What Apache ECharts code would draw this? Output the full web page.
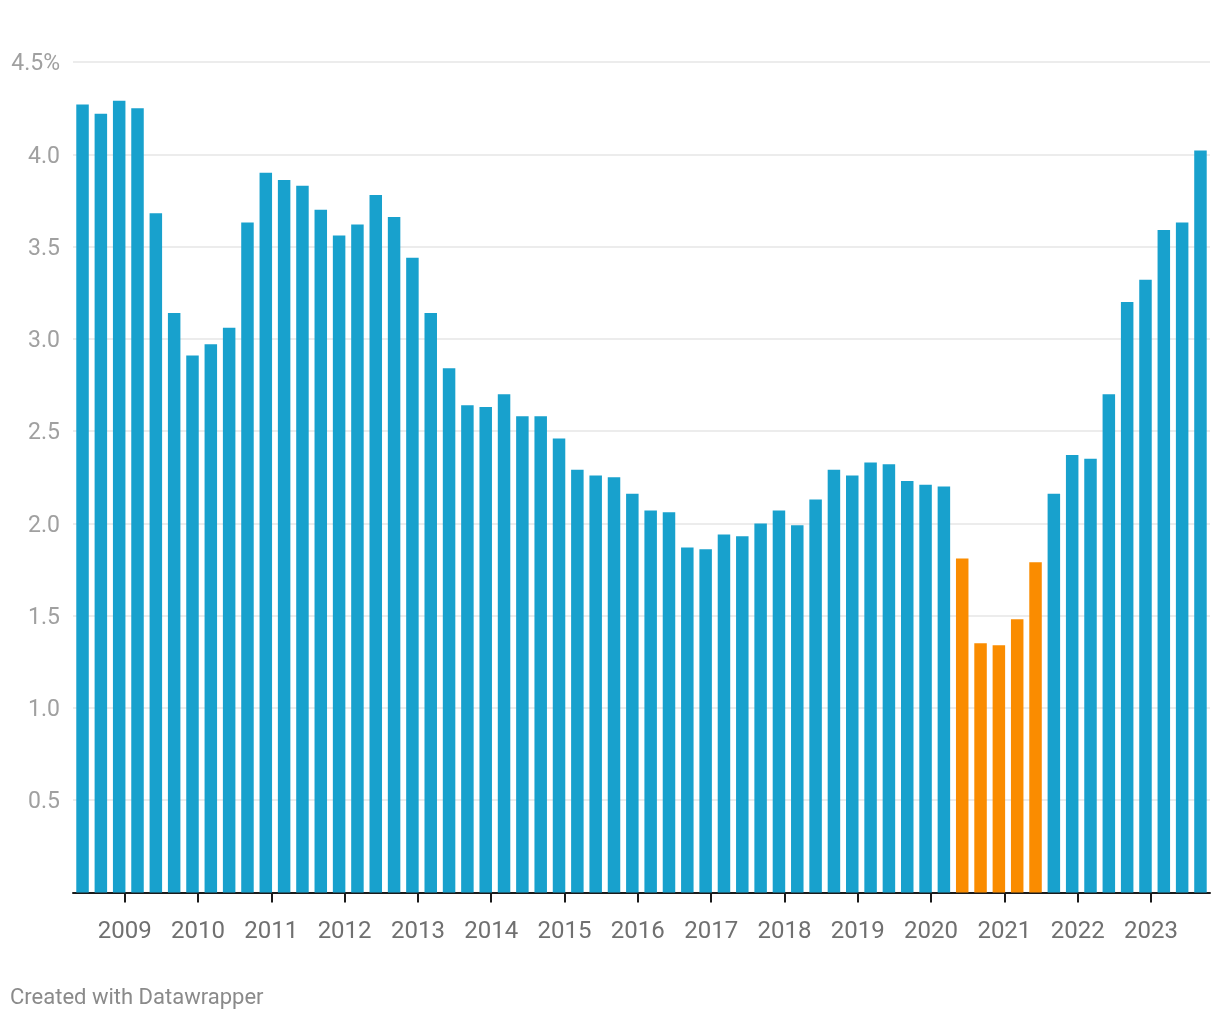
<!DOCTYPE html>
<html>
<head>
<meta charset="utf-8">
<script src="https://cdn.jsdelivr.net/npm/echarts@6/dist/echarts.min.js"></script>
<style>
  html, body { margin: 0; padding: 0; background: #ffffff; }
  #chart { width: 1220px; height: 1020px; }
</style>
</head>
<body>
<div id="chart"></div>
<script>
// Quarterly periods (one bar each)
const quarters = [
  '2008 Q2','2008 Q3','2008 Q4',
  '2009 Q1','2009 Q2','2009 Q3','2009 Q4',
  '2010 Q1','2010 Q2','2010 Q3','2010 Q4',
  '2011 Q1','2011 Q2','2011 Q3','2011 Q4',
  '2012 Q1','2012 Q2','2012 Q3','2012 Q4',
  '2013 Q1','2013 Q2','2013 Q3','2013 Q4',
  '2014 Q1','2014 Q2','2014 Q3','2014 Q4',
  '2015 Q1','2015 Q2','2015 Q3','2015 Q4',
  '2016 Q1','2016 Q2','2016 Q3','2016 Q4',
  '2017 Q1','2017 Q2','2017 Q3','2017 Q4',
  '2018 Q1','2018 Q2','2018 Q3','2018 Q4',
  '2019 Q1','2019 Q2','2019 Q3','2019 Q4',
  '2020 Q1','2020 Q2','2020 Q3','2020 Q4',
  '2021 Q1','2021 Q2','2021 Q3','2021 Q4',
  '2022 Q1','2022 Q2','2022 Q3','2022 Q4',
  '2023 Q1','2023 Q2','2023 Q3'
];

// Values in percent
const values = [
  4.27, 4.22, 4.29,
  4.25, 3.68, 3.14, 2.91,
  2.97, 3.06, 3.63, 3.90,
  3.86, 3.83, 3.70, 3.56,
  3.62, 3.78, 3.66, 3.44,
  3.14, 2.84, 2.64, 2.63,
  2.70, 2.58, 2.58, 2.46,
  2.29, 2.26, 2.25, 2.16,
  2.07, 2.06, 1.87, 1.86,
  1.94, 1.93, 2.00, 2.07,
  1.99, 2.13, 2.29, 2.26,
  2.33, 2.32, 2.23, 2.21,
  2.20, 1.81, 1.35, 1.34,
  1.48, 1.79, 2.16, 2.37,
  2.35, 2.70, 3.20, 3.32,
  3.59, 3.63, 4.02
];

// Highlighted (orange) periods
const highlighted = ['2020 Q2','2020 Q3','2020 Q4','2021 Q1','2021 Q2'];

// Year tick labels on the x axis
const yearLabels = ['2009','2010','2011','2012','2013','2014','2015','2016','2017','2018','2019','2020','2021','2022','2023'];

// Y axis tick values
const yTicks = [0.5, 1.0, 1.5, 2.0, 2.5, 3.0, 3.5, 4.0, 4.5];

const BLUE = '#18a1cd';
const ORANGE = '#fa8c00';

// Year boundary tick positions (index of the year's first quarter, shifted slightly left)
const yearTickPos = yearLabels.map(y => quarters.indexOf(y + ' Q1') - 0.7);

const chart = echarts.init(document.getElementById('chart'), null, { renderer: 'canvas' });

const option = {
  animation: false,
  backgroundColor: '#ffffff',
  grid: { left: 73, right: 10, top: 62, bottom: 127.5, containLabel: false },
  xAxis: {
    type: 'value',
    min: -0.52,
    max: quarters.length - 1 + 0.52,
    splitLine: { show: false },
    axisLine: { show: true, onZero: false, lineStyle: { color: '#1a1a1a', width: 2 } },
    axisTick: {
      show: true,
      customValues: yearTickPos,
      length: 10,
      lineStyle: { color: '#1a1a1a', width: 2 }
    },
    axisLabel: {
      show: true,
      customValues: yearTickPos,
      formatter: function (v) {
        const i = yearTickPos.findIndex(p => Math.abs(p - v) < 0.01);
        return i >= 0 ? yearLabels[i] : '';
      },
      color: '#707070',
      fontFamily: 'Roboto',
      fontSize: 24,
      margin: 27
    }
  },
  yAxis: {
    type: 'value',
    min: 0,
    max: 4.5,
    interval: 0.5,
    axisLine: { show: false },
    axisTick: { show: false },
    splitLine: { show: true, lineStyle: { color: '#e6e6e6', width: 1.5 } },
    axisLabel: {
      color: '#a0a0a0',
      fontFamily: 'Roboto',
      fontSize: 23,
      margin: 13,
      verticalAlign: 'top',
      verticalAlignMaxLabel: 'top',
      verticalAlignMinLabel: 'top',
      lineHeight: 5,
      formatter: function (v) {
        if (v === 0) return '';
        const s = v.toFixed(1);
        return (Math.abs(v - yTicks[yTicks.length - 1]) < 1e-9) ? s + '%' : s;
      }
    }
  },
  series: [{
    type: 'bar',
    barWidth: 12.5,
    data: values.map((v, i) => ({
      value: [i, v],
      itemStyle: { color: highlighted.indexOf(quarters[i]) >= 0 ? ORANGE : BLUE }
    })),
    z: 1
  }],
  graphic: [{
    type: 'text',
    left: 10,
    top: 987,
    style: {
      text: 'Created with Datawrapper',
      fill: '#8a8a8a',
      font: '22px Roboto'
    }
  }]
};

chart.setOption(option);
</script>
</body>
</html>
